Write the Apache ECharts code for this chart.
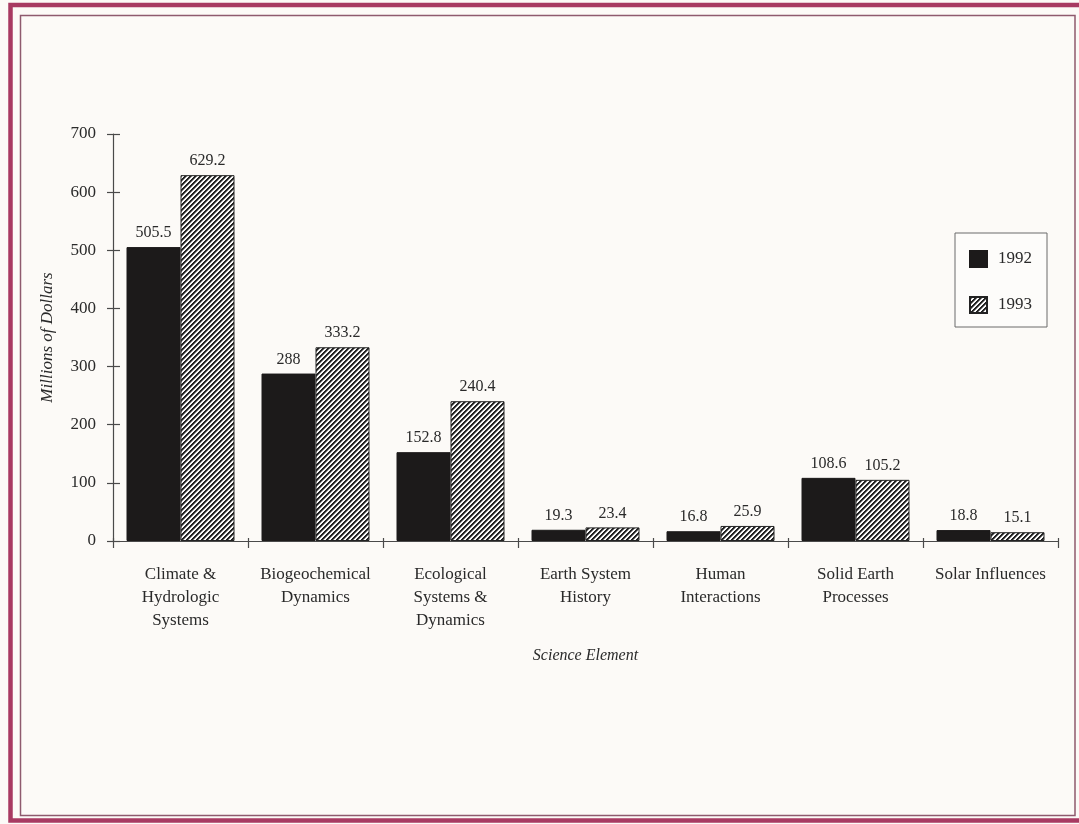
<!DOCTYPE html>
<html>
<head>
<meta charset="utf-8">
<title>Science Element Funding, 1992 vs 1993</title>
<script src="https://cdn.jsdelivr.net/npm/echarts@6/dist/echarts.min.js"></script>
<style>
  html, body { margin: 0; padding: 0; background: #fcfaf7; }
  #chart { width: 1079px; height: 824px; }
</style>
</head>
<body>
<div id="chart"></div>
<script>
// Funding by science element, millions of dollars
const categories = [
  'Climate &\nHydrologic\nSystems',
  'Biogeochemical\nDynamics',
  'Ecological\nSystems &\nDynamics',
  'Earth System\nHistory',
  'Human\nInteractions',
  'Solid Earth\nProcesses',
  'Solar Influences'
];
const values1992 = [505.5, 288, 152.8, 19.3, 16.8, 108.6, 18.8];
const values1993 = [629.2, 333.2, 240.4, 23.4, 25.9, 105.2, 15.1];
const yTicks = { min: 0, max: 700, interval: 100 };

const FONT = '"Liberation Serif", "DejaVu Serif", serif';
const INK = '#2a2a2a';

// Diagonal "/" hatch tile for the 1993 bars
function makeHatch() {
  const size = 10, period = 5;
  const shade = [34, 34, 120, 250, 250];
  const c = document.createElement('canvas');
  c.width = size; c.height = size;
  const ctx = c.getContext('2d');
  const img = ctx.createImageData(size, size);
  for (let y = 0; y < size; y++) {
    for (let x = 0; x < size; x++) {
      const v = shade[(x + y) % period];
      const i = (y * size + x) * 4;
      img.data[i] = v; img.data[i + 1] = v; img.data[i + 2] = v; img.data[i + 3] = 255;
    }
  }
  ctx.putImageData(img, 0, 0);
  return c;
}

const chart = echarts.init(document.getElementById('chart'), null, { renderer: 'canvas' });

const barLabel = {
  show: true,
  position: 'top',
  distance: 6,
  fontFamily: FONT,
  fontSize: 16,
  color: INK
};

chart.setOption({
  backgroundColor: '#fcfaf7',
  animation: false,
  textStyle: { fontFamily: FONT, color: INK },
  grid: { left: 113, right: 21, top: 134, bottom: 283, containLabel: false },
  legend: {
    data: ['1992', '1993'],
    orient: 'vertical',
    icon: 'rect',
    left: 955,
    top: 233,
    width: 91,
    padding: [17, 15, 13, 14],
    itemWidth: 17,
    itemHeight: 16,
    itemGap: 28,
    borderColor: '#6a6a6a',
    borderWidth: 1,
    backgroundColor: '#fdfcfa',
    textStyle: { fontFamily: FONT, fontSize: 17, color: INK, padding: [0, 0, 0, 6] }
  },
  xAxis: [
    {
      type: 'category',
      data: categories,
      position: 'bottom',
      name: 'Science Element',
      nameLocation: 'middle',
      nameGap: 107,
      nameTextStyle: { fontFamily: FONT, fontStyle: 'italic', fontSize: 16, color: INK },
      axisLine: { lineStyle: { color: '#4a4a4a', width: 1.2 } },
      axisTick: { show: true, length: 7, lineStyle: { color: '#4a4a4a', width: 1.2 } },
      axisLabel: {
        interval: 0,
        margin: 22,
        fontFamily: FONT,
        fontSize: 17,
        lineHeight: 23,
        color: INK,
        align: 'center'
      }
    },
    {
      // inward tick stubs so the category ticks cross the baseline
      type: 'category',
      data: categories,
      position: 'bottom',
      gridIndex: 0,
      axisLine: { show: false },
      axisTick: { show: true, inside: true, length: 3, lineStyle: { color: '#4a4a4a', width: 1.2 } },
      axisLabel: { show: false }
    }
  ],
  yAxis: [
    {
      type: 'value',
      min: yTicks.min,
      max: yTicks.max,
      interval: yTicks.interval,
      position: 'left',
      name: 'Millions of Dollars',
      nameLocation: 'middle',
      nameGap: 57,
      nameTextStyle: { fontFamily: FONT, fontStyle: 'italic', fontSize: 17, color: INK },
      splitLine: { show: false },
      axisLine: { show: true, lineStyle: { color: '#4a4a4a', width: 1.2 } },
      axisTick: { show: true, length: 6, lineStyle: { color: '#4a4a4a', width: 1.2 } },
      axisLabel: { margin: 17, fontFamily: FONT, fontSize: 17, color: INK }
    },
    {
      // inward tick stubs so the value ticks cross the axis line
      type: 'value',
      min: yTicks.min,
      max: yTicks.max,
      interval: yTicks.interval,
      position: 'left',
      splitLine: { show: false },
      axisLine: { show: false },
      axisTick: { show: true, inside: true, length: 7, lineStyle: { color: '#4a4a4a', width: 1.2 } },
      axisLabel: { show: false }
    }
  ],
  series: [
    {
      name: '1992',
      type: 'bar',
      xAxisIndex: 0,
      yAxisIndex: 0,
      data: values1992,
      barGap: '0%',
      barCategoryGap: '20%',
      itemStyle: { color: '#1c1a1a', borderColor: '#1c1a1a', borderWidth: 1 },
      label: barLabel
    },
    {
      name: '1993',
      type: 'bar',
      xAxisIndex: 0,
      yAxisIndex: 0,
      data: values1993,
      barGap: '0%',
      barCategoryGap: '20%',
      itemStyle: {
        color: { image: makeHatch(), repeat: 'repeat' },
        borderColor: '#222',
        borderWidth: 1
      },
      label: barLabel
    }
  ],
  graphic: [
    {
      // outer heavy frame
      type: 'rect',
      silent: true,
      shape: { x: 10.5, y: 5, width: 1079, height: 815.5 },
      style: { fill: null, stroke: '#a83a62', lineWidth: 4.5 }
    },
    {
      // inner thin frame
      type: 'rect',
      silent: true,
      shape: { x: 20.5, y: 15.5, width: 1054.5, height: 800 },
      style: { fill: null, stroke: '#8e5a6e', lineWidth: 1.5 }
    }
  ]
});
</script>
</body>
</html>
